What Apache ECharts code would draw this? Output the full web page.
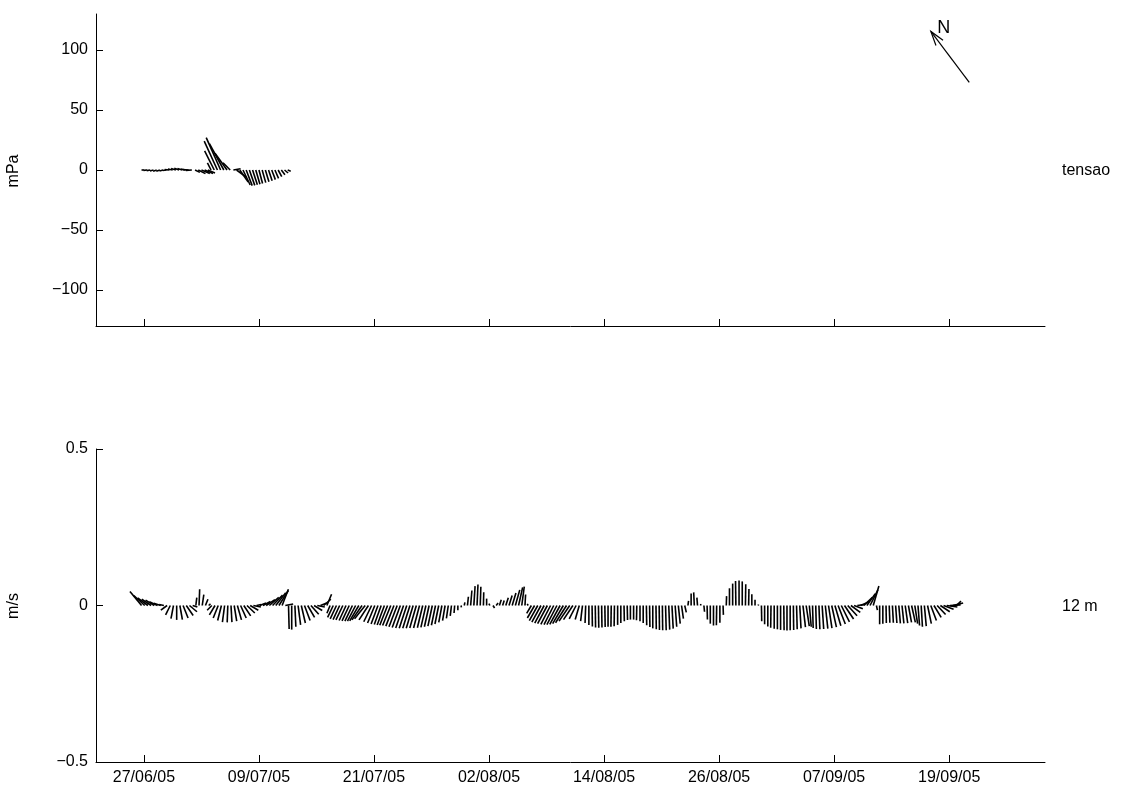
<!DOCTYPE html>
<html><head><meta charset="utf-8">
<script src="https://cdn.jsdelivr.net/npm/echarts@6/dist/echarts.min.js"></script>
<style>html,body{margin:0;padding:0;background:#fff}#c{width:1127px;height:794px}</style>
</head><body><div id="c"></div>
<script>
// time axis: days since 22/06/05 00:00
const tickDays = [5, 17, 29, 41, 53, 65, 77, 89];
const tickLabels = ['27/06/05','09/07/05','21/07/05','02/08/05','14/08/05','26/08/05','07/09/05','19/09/05'];
const stressTicks = [-100, -50, 0, 50, 100];

// wind stress (mPa), 8-hourly from day 5.0
const stressStart = 5.0;
const stressStep = 1/3;
const stressU = [-2,-3,-3,-3,-3,-3,-3,-3,-4,-4, -4,-4,-4,-4,-5,-5,4,6,7,7, 6,-3,-8,-11,-12,-12,-10,-6,6,8, 7,6,5,4.5,4,3.5,3,3,3,3, 3,3,3,3,3,2.5];
const stressV = [0,-0.3,-0.5,-0.8,-1,-1,-0.8,-0.4,0.3,0.8, 1.3,1.5,1.3,0.8,0.3,-0.3,-2,-3,-3,-3, -2.5,6,16,24,27,22,14,6,1,-6, -10,-12.5,-13,-12.8,-12.3,-11.8,-11.2,-10.5,-9.8,-9, -8,-7,-5.5,-4,-2.5,-1];

// current at 12 m (cm/s), 8-hourly from day 4.75
const curStart = 4.75;
const curStep = 1/3;
const curU = [
-3.7,-3.5,-3.3,-3.0,-2.8,-2.6,-2.2,-1.5,-2.0,-1.5,
-0.8,0.0,0.8,1.6,2.2,2.4,1.5,0.3,0.2,0.5,
0.8,0.6,-1.5,-1.8,-1.6,-1.2,-0.7,-0.2,0.3,0.8,
1.3,1.8,2.2,2.5,2.6,2.4,1.5,2.0,2.4,2.8,
3.0,3.2,3.2,3.0,2.0,2.5,0.2,0.0,0.3,0.8,
1.3,1.8,2.2,2.5,2.6,2.4,2.0,2.3,1.5,-1.0,
-1.8,-2.0,-2.1,-2.2,-2.2,-2.3,-2.4,-2.6,-2.9,-3.2,
-3.4,-3.0,-2.5,-2.3,-2.2,-2.2,-2.3,-2.5,-2.6,-2.6,
-2.6,-2.6,-2.5,-2.4,-2.3,-2.2,-2.1,-1.9,-1.7,-1.6,
-1.5,-1.4,-1.3,-1.2,-1.0,-0.8,-0.6,-0.4,-0.2,0.0,
0.1,0.2,0.3,0.4,0.4,0.3,0.2,0.1,0.0,-0.3,
0.5,0.6,0.6,0.5,0.8,1.0,1.2,1.4,1.3,0.8,
0.2,-0.3,-1.5,-2.3,-2.7,-2.9,-3.0,-3.1,-3.1,-3.1,
-3.2,-3.3,-3.4,-3.5,-3.4,-3.0,-2.2,-1.3,-0.6,-0.2,
0.0,0.1,0.1,0.1,0.1,0.1,0.0,-0.1,-0.1,0.0,
0.0,0.1,0.1,0.0,0.0,-0.1,0.0,0.0,0.1,0.1,
0.0,0.1,0.1,0.1,0.2,0.3,0.4,0.5,0.6,0.6,
0.5,0.2,0.0,-0.2,-0.2,0.0,0.2,0.1,0.0,0.0,
-0.1,0.0,0.1,0.1,0.0,0.0,-0.1,0.0,0.0,0.1,
0.1,0.0,0.0,0.1,0.1,0.0,0.0,-0.1,0.0,0.0,
0.0,0.1,0.0,0.0,0.1,0.2,0.4,0.8,1.0,0.6,
0.2,0.2,0.3,0.5,0.8,1.1,1.5,1.9,2.3,2.6,
2.9,3.0,3.0,2.8,2.6,2.8,2.8,2.7,2.5,1.8,
0.3,0.0,0.0,0.1,0.2,0.3,0.4,0.5,0.6,0.8,
1.0,1.2,0.9,0.5,0.4,0.6,1.2,1.8,2.3,2.7,
3.0,3.2,3.4,3.4,3.2,1.5];
const curV = [
4.5,3.2,2.4,2.0,1.7,1.2,0.7,0.3,-1.5,-3.0,
-4.2,-4.6,-4.5,-4.0,-3.2,-2.0,-0.5,2.5,5.2,3.5,
2.0,0.5,-1.5,-3.0,-4.0,-4.8,-5.3,-5.4,-5.3,-5.0,
-4.6,-4.0,-3.3,-2.4,-1.5,-0.5,0.3,0.8,1.3,1.9,
2.6,3.3,4.1,4.8,5.2,0.5,-7.5,-7.7,-6.8,-6.2,
-5.6,-4.8,-3.8,-2.8,-1.6,-0.5,0.8,2.0,3.6,-2.5,
-3.8,-4.3,-4.5,-4.6,-4.8,-4.9,-5.0,-5.0,-4.9,-4.6,
-4.2,-4.6,-5.2,-5.6,-5.9,-6.1,-6.2,-6.3,-6.4,-6.6,
-6.8,-7.0,-7.2,-7.3,-7.3,-7.3,-7.2,-7.2,-7.1,-7.0,
-6.8,-6.6,-6.3,-5.9,-5.4,-4.8,-4.1,-3.3,-2.4,-1.5,
-0.6,1.0,2.8,4.8,6.2,6.7,6.0,4.2,2.2,0.6,
-0.8,0.8,1.8,1.6,2.5,3.2,4.0,5.0,5.8,6.0,
3.5,0.5,-2.5,-4.0,-4.8,-5.3,-5.6,-5.8,-6.0,-6.1,
-6.1,-6.0,-5.8,-5.5,-5.0,-4.5,-4.3,-4.5,-5.0,-5.6,
-6.2,-6.7,-7.0,-7.1,-7.0,-6.9,-6.8,-6.8,-6.6,-6.2,
-5.6,-5.0,-4.6,-4.5,-4.5,-4.7,-5.0,-5.6,-6.3,-6.9,
-7.3,-7.6,-7.8,-7.9,-7.9,-7.7,-7.4,-6.8,-5.8,-4.2,
-2.2,1.5,3.8,4.2,2.5,0.5,-2.0,-4.5,-5.8,-6.4,
-6.3,-5.5,-3.0,3.0,5.5,7.0,7.8,8.0,7.7,6.8,
5.3,3.6,1.8,0.3,-5.0,-6.0,-6.7,-7.1,-7.4,-7.6,
-7.8,-7.9,-8.0,-7.9,-7.8,-7.6,-7.3,-6.9,-6.6,-6.8,
-7.2,-7.5,-7.6,-7.5,-7.4,-7.2,-6.9,-6.5,-5.9,-5.2,
-4.3,-3.3,-2.2,-1.0,0.3,1.2,2.6,3.8,5.0,6.2,
-1.5,-6.0,-5.8,-5.6,-5.5,-5.5,-5.6,-5.7,-5.7,-5.6,
-5.4,-5.4,-5.8,-6.4,-6.8,-6.6,-5.8,-4.8,-3.8,-2.9,
-2.0,-1.2,-0.5,0.2,0.8,1.4];

// north indicator: [day, mPa level, u, v] drawn in the stress panel
const northArrow = [91.1, 73, -32, 42.5];

const FONT = 'Liberation Sans, Arial, sans-serif';
const FS = 16;

const stressData = stressU.map((u, i) => [stressStart + i * stressStep, u, stressV[i]]);
const curData = curU.map((u, i) => [curStart + i * curStep, u / 100, curV[i] / 100]);

function stick(params, api) {
  const t = api.value(0), u = api.value(1), v = api.value(2);
  const b = api.coord([t, 0]);
  const s = api.size([0, 1])[1];
  return { type: 'line', shape: { x1: b[0], y1: b[1], x2: b[0] + u * s, y2: b[1] - v * s },
    style: { stroke: '#000', lineWidth: 1.6, lineCap: 'butt' } };
}

function arrow(params, api) {
  const b = api.coord([api.value(0), api.value(1)]);
  const s = api.size([0, 1])[1];
  const tx = b[0] + api.value(2) * s, ty = b[1] - api.value(3) * s;
  const dx = b[0] - tx, dy = b[1] - ty, L = Math.hypot(dx, dy);
  const ux = dx / L, uy = dy / L, hl = 15, a = 0.3;
  const h1 = [tx + hl * (ux * Math.cos(a) - uy * Math.sin(a)), ty + hl * (ux * Math.sin(a) + uy * Math.cos(a))];
  const h2 = [tx + hl * (ux * Math.cos(-a) - uy * Math.sin(-a)), ty + hl * (ux * Math.sin(-a) + uy * Math.cos(-a))];
  return { type: 'group', children: [
    { type: 'line', shape: { x1: b[0], y1: b[1], x2: tx, y2: ty }, style: { stroke: '#000', lineWidth: 1.2 } },
    { type: 'polyline', shape: { points: [h1, [tx, ty], h2] }, style: { stroke: '#000', fill: null, lineWidth: 1.2 } },
    { type: 'text', x: tx + 13, y: ty - 3, style: { text: 'N', fill: '#000', font: '18px ' + FONT, textAlign: 'center', textVerticalAlign: 'middle', align: 'center', verticalAlign: 'middle' } }
  ] };
}

const minus = v => (v < 0 ? '\u2212' + Math.abs(v) : String(v));
const axisLineStyle = { onZero: false, lineStyle: { color: '#000', width: 1 } };

const chart = echarts.init(document.getElementById('c'), null, { renderer: 'canvas' });
chart.setOption({
  animation: false,
  backgroundColor: '#fff',
  grid: [
    { left: 96, top: 14, width: 949, height: 312 },
    { left: 96, top: 449, width: 949, height: 313 }
  ],
  xAxis: [
    { type: 'value', gridIndex: 0, min: 0, max: 99,
      axisLine: axisLineStyle,
      axisTick: { inside: true, length: 7, customValues: tickDays, lineStyle: { color: '#000' } },
      axisLabel: { show: false }, splitLine: { show: false } },
    { type: 'value', gridIndex: 1, min: 0, max: 99,
      axisLine: axisLineStyle,
      axisTick: { inside: true, length: 7, customValues: tickDays, lineStyle: { color: '#000' } },
      axisLabel: { customValues: tickDays, color: '#000', fontSize: FS, fontFamily: FONT, margin: 8,
        formatter: v => tickLabels[tickDays.indexOf(v)] },
      splitLine: { show: false } }
  ],
  yAxis: [
    { type: 'value', gridIndex: 0, min: -130, max: 130,
      axisLine: { show: true, onZero: false, lineStyle: { color: '#000', width: 1 } },
      axisTick: { show: true, inside: true, length: 7, customValues: stressTicks, lineStyle: { color: '#000' } },
      axisLabel: { customValues: stressTicks, color: '#000', fontSize: FS, fontFamily: FONT, margin: 8, formatter: minus },
      splitLine: { show: false } },
    { type: 'value', gridIndex: 1, min: -0.5, max: 0.5, interval: 0.5,
      axisLine: { show: true, onZero: false, lineStyle: { color: '#000', width: 1 } },
      axisTick: { show: true, inside: true, length: 7, lineStyle: { color: '#000' } },
      axisLabel: { color: '#000', fontSize: FS, fontFamily: FONT, margin: 8, formatter: minus },
      splitLine: { show: false } }
  ],
  graphic: [
    { type: 'text', x: 14, y: 171, rotation: Math.PI / 2,
      style: { text: 'mPa', fill: '#000', font: FS + 'px ' + FONT, textAlign: 'center', textVerticalAlign: 'middle', align: 'center', verticalAlign: 'middle' } },
    { type: 'text', x: 14, y: 606, rotation: Math.PI / 2,
      style: { text: 'm/s', fill: '#000', font: FS + 'px ' + FONT, textAlign: 'center', textVerticalAlign: 'middle', align: 'center', verticalAlign: 'middle' } },
    { type: 'text', x: 1062, y: 171,
      style: { text: 'tensao', fill: '#000', font: FS + 'px ' + FONT, textAlign: 'left', textVerticalAlign: 'middle', align: 'left', verticalAlign: 'middle' } },
    { type: 'text', x: 1062, y: 607,
      style: { text: '12 m', fill: '#000', font: FS + 'px ' + FONT, textAlign: 'left', textVerticalAlign: 'middle', align: 'left', verticalAlign: 'middle' } }
  ],
  series: [
    { type: 'custom', coordinateSystem: 'cartesian2d', xAxisIndex: 0, yAxisIndex: 0,
      renderItem: stick, data: stressData, encode: { x: 0, y: 2 }, silent: true },
    { type: 'custom', coordinateSystem: 'cartesian2d', xAxisIndex: 0, yAxisIndex: 0,
      renderItem: arrow, data: [northArrow], encode: { x: 0, y: 1 }, silent: true },
    { type: 'custom', coordinateSystem: 'cartesian2d', xAxisIndex: 1, yAxisIndex: 1,
      renderItem: stick, data: curData, encode: { x: 0, y: 2 }, silent: true }
  ]
});
</script></body></html>
